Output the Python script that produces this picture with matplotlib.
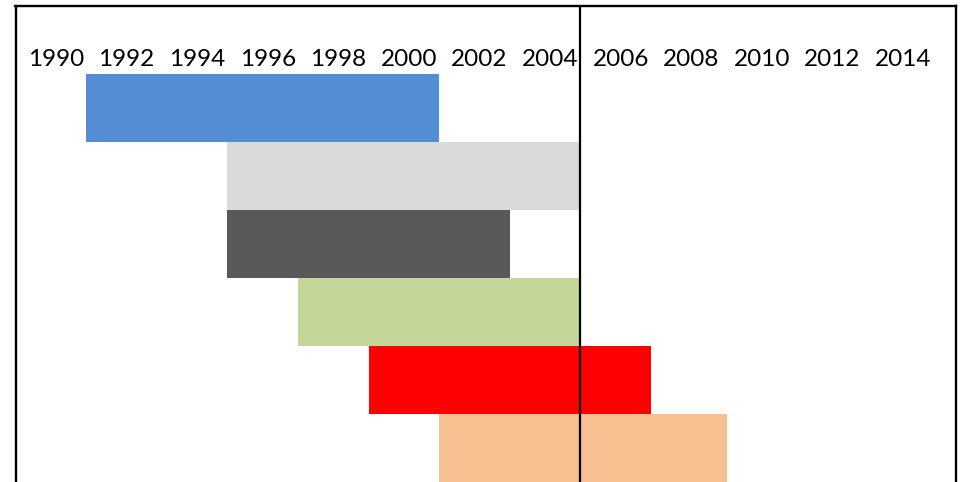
import matplotlib
matplotlib.use("Agg")
import matplotlib.pyplot as plt
import matplotlib.transforms as mtransforms

# data: one bar per row, top to bottom
rows = [0, 1, 2, 3, 4, 5]
start_year = [1991, 1995, 1995, 1997, 1999, 2001]
end_year = [2001, 2005, 2003, 2005, 2007, 2009.15]
bar_colors = ["#548DD4", "#D9D9D9", "#595959", "#C4D79B", "#FF0000", "#F8C090"]
tick_years = list(range(1990, 2015, 2))
marker_year = 2005

plt.rcParams['font.family'] = ['Lato', 'DejaVu Sans']

fig = plt.figure(figsize=(9.65, 4.82), dpi=100)
ax = fig.add_axes([15.5 / 965, 0, (956 - 15.5) / 965, 1 - 6 / 482])

widths = [e - s for s, e in zip(start_year, end_year)]
ax.barh(rows, widths, left=start_year, height=1.0, color=bar_colors, zorder=2)
ax.axvline(marker_year, color="black", lw=1.6, zorder=3)

ax.set_xlim(1989, 2015.64)
ax.set_ylim(5.5, -1.5)

ax.set_xticks(tick_years)
ax.set_xticklabels([str(y) for y in tick_years])
ax.tick_params(axis="x", top=True, labeltop=True, bottom=False, labelbottom=False,
               length=0, pad=-38.5, labelsize=17.5)
# labels sit a few pixels right of their tick in the original
shift = mtransforms.ScaledTranslation(5 / 100, 0, fig.dpi_scale_trans)
for lab in ax.get_xticklabels():
    lab.set_va("center")
    lab.set_transform(lab.get_transform() + shift)
ax.set_yticks([])

for side in ["top", "left", "right"]:
    ax.spines[side].set_linewidth(1.7)
ax.spines["bottom"].set_visible(False)

fig.savefig("out.png", dpi=100)
